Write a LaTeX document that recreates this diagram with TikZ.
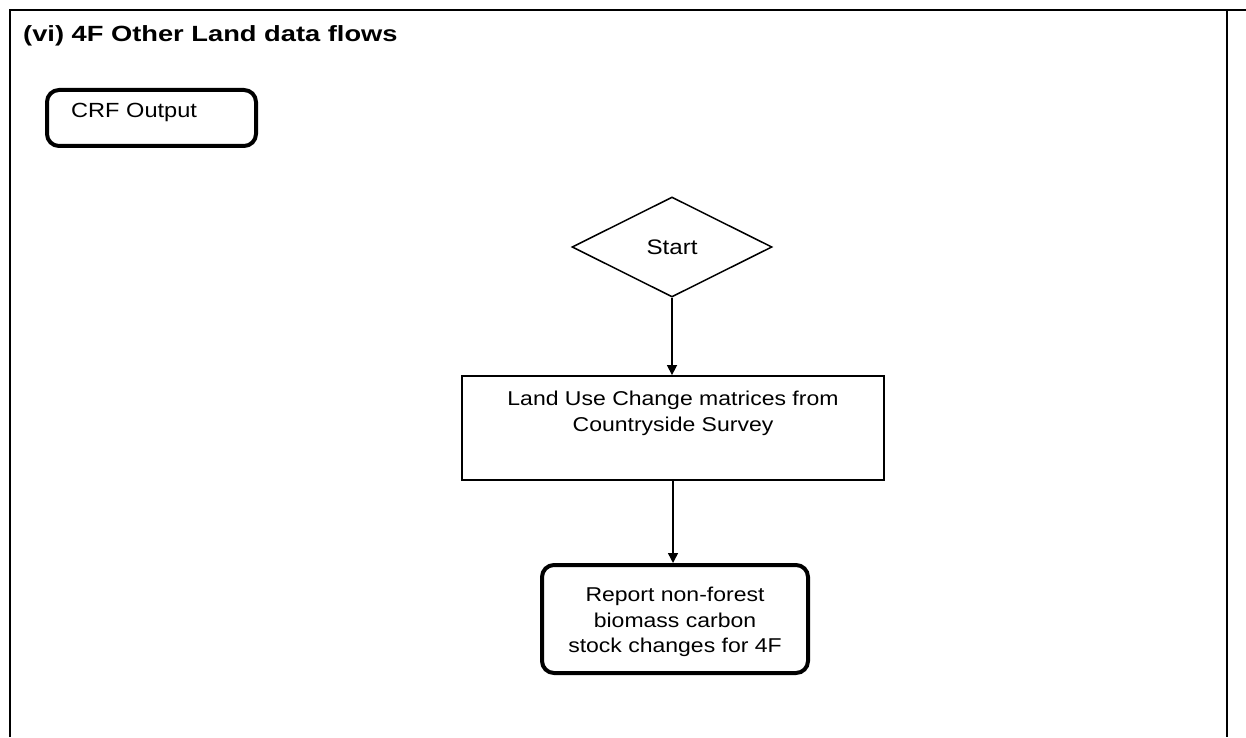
\documentclass[tikz,border=0pt]{standalone}
\usepackage{fontspec}
\setmainfont{Liberation Sans}[FakeStretch=1.15]
\newfontfamily\titlefont{Liberation Sans}[FakeStretch=1.24]
\usetikzlibrary{shapes.geometric,arrows.meta}
\tikzset{
  frameline/.style={line width=2.6pt},
  boxtext/.style={font=\fontsize{20}{25.5}\selectfont, inner sep=0pt},
  outbox/.style={draw, rounded corners=12pt, line width=4pt, inner sep=0pt},
  procbox/.style={draw, line width=1.8pt, inner sep=0pt},
  decbox/.style={draw, diamond, line width=1.5pt, inner sep=0pt, aspect=2},
  arr/.style={line width=1.5pt, -{Triangle[length=10pt,width=10pt]}}
}
\begin{document}
\begin{tikzpicture}[x=1pt,y=1pt]
\useasboundingbox (0,0) rectangle (1246,737);
\fill[white] (0,0) rectangle (1246,737);
% frame
\draw[frameline] (10,0) -- (10,727) -- (1246,727);
\draw[frameline] (1227,727) -- (1227,0);
% title
\node[anchor=base west, inner sep=0pt, font=\titlefont\bfseries\fontsize{22}{26}\selectfont] (title) at (23,695) {(vi) 4F Other Land data flows};
% CRF output legend box
\node[outbox, minimum width=209pt, minimum height=56pt] (crf) at (151.5,619) {};
\node[boxtext, anchor=base west, font=\fontsize{20.5}{25}\selectfont] (crft) at (71,619) {CRF Output};
% start
\node[decbox, minimum width=200pt, minimum height=100pt, font=\fontsize{21}{25}\selectfont] (start) at (672,490) {Start};
% land use change box
\node[procbox, minimum width=422pt, minimum height=104pt] (luc) at (673,309) {};
\node[boxtext, align=center, anchor=north] (luct) at (673,346) {Land Use Change matrices from\\Countryside Survey};
% report box
\node[outbox, minimum width=266pt, minimum height=108pt] (rep) at (675,118) {};
\node[boxtext, align=center] (rept) at (675,115) {Report non-forest\\biomass carbon\\stock changes for 4F};
% connectors
\draw[arr] (start.south) -- (start.south |- luc.north);
\draw[arr] (luc.south) -- (luc.south |- rep.north);
\end{tikzpicture}
\end{document}
